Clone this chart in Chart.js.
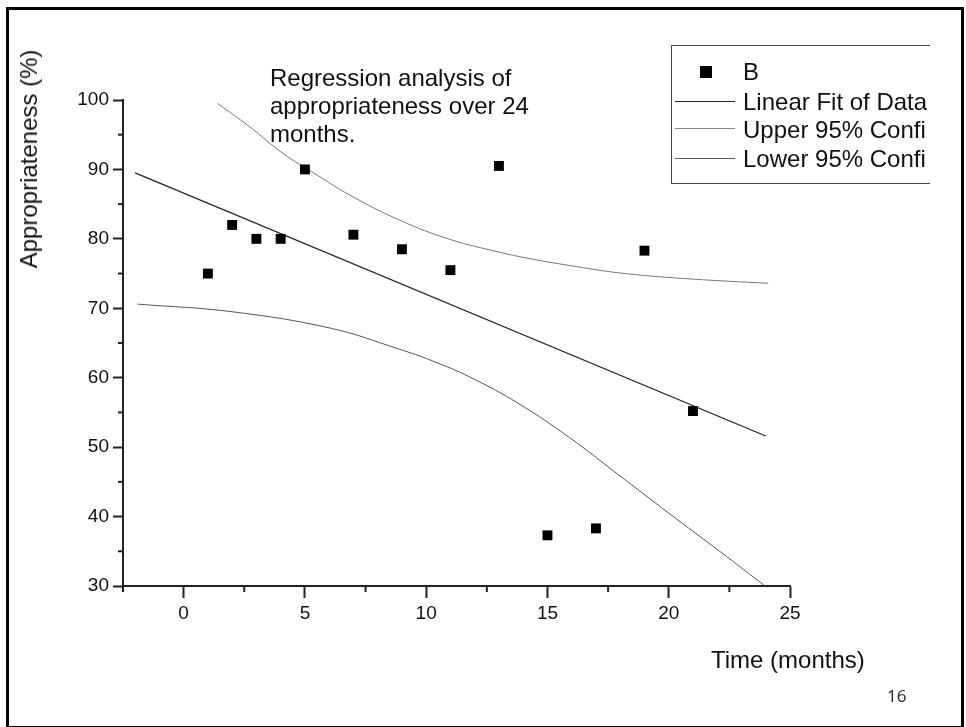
<!DOCTYPE html>
<html lang="en">
<head>
    <meta charset="UTF-8">
    <title>Regression analysis of appropriateness</title>
    <style>
        body { margin: 0; background: #fff; font-family: "Liberation Sans", Arial, sans-serif; }
        #wrap { position: relative; width: 966px; height: 727px; overflow: hidden; }
        #chart { position: absolute; left: 0; top: 0; }
        .txt { position: absolute; color: #111; white-space: nowrap; }
        #frame { position: absolute; left: 6px; top: 7px; width: 958px; height: 722px; border: 3px solid #000; box-sizing: border-box; pointer-events: none; }
        #note { left: 270px; top: 64px; font-size: 24px; line-height: 28px; }
        #ytitle { left: 29px; top: 159px; font-size: 24px; line-height: 28px; transform: translate(-50%, -50%) rotate(-90deg); }
        #xtitle { left: 711px; top: 646px; font-size: 24px; line-height: 28px; }
        #page { left: 887px; top: 687px; font-family: "Open Sans", sans-serif; font-size: 17px; line-height: 17px; color: #222; }
        #legend { position: absolute; left: 671px; top: 45px; width: 259px; height: 139px; border: 1.5px solid #444; border-right: none; box-sizing: border-box; overflow: hidden; }
        .lg-line { position: absolute; left: 3px; width: 60px; height: 0; }
        .lg-txt { position: absolute; left: 71px; font-size: 24px; line-height: 28px; color: #111; white-space: nowrap; }
        .lg-sq { position: absolute; left: 28px; top: 20px; width: 12px; height: 12px; background: #000; }
    </style>
</head>
<body>
<div id="wrap">
    <canvas id="chart" width="966" height="727"></canvas>
    <div id="note" class="txt">Regression analysis of<br>appropriateness over 24<br>months.</div>
    <div id="ytitle" class="txt">Appropriateness (%)</div>
    <div id="xtitle" class="txt">Time (months)</div>
    <div id="page" class="txt">16</div>
    <div id="legend">
        <div class="lg-sq"></div>
        <div class="lg-txt" style="top:12px">B</div>
        <div class="lg-line" style="top:55px; border-top:1.2px solid #222"></div>
        <div class="lg-txt" style="top:42px">Linear Fit of Data</div>
        <div class="lg-line" style="top:82px; border-top:1px solid #888"></div>
        <div class="lg-txt" style="top:70px">Upper 95% Confi</div>
        <div class="lg-line" style="top:112px; border-top:1px solid #555"></div>
        <div class="lg-txt" style="top:99px">Lower 95% Confi</div>
    </div>
    <div id="frame"></div>
</div>

<script src="https://cdn.jsdelivr.net/npm/chart.js"></script>
<script>
    // data
    const months = [1, 2, 3, 4, 5, 7, 9, 11, 13, 15, 17, 19, 21];
    const appropriateness = [75, 82, 80, 80, 90, 80.6, 78.5, 75.5, 90.5, 37.3, 38.3, 78.3, 55.2];

    const fitX = [-2, 24];
    const fitY = [89.5, 51.6];

    const upperX = [1.4, 2.7, 4.1, 5.5, 6.8, 8.9, 11.0, 13.0, 14.2, 16.2, 18.2, 21.0, 24.1];
    const upperY = [99.5, 96.2, 92.3, 89.2, 86.4, 82.7, 79.9, 78.1, 77.2, 76.0, 75.0, 74.2, 73.6];

    const lowerX = [-1.9, 2.0, 6.1, 8.9, 10.2, 11.8, 13.8, 15.9, 17.9, 20.0, 22.1, 24.05];
    const lowerY = [70.6, 69.5, 67.1, 64.1, 62.5, 60.1, 56.3, 51.4, 46.1, 40.5, 35.0, 29.8];

    const toPoints = (xs, ys) => xs.map((x, i) => ({ x: x, y: ys[i] }));
    const isMult = (v, m) => Math.abs(v / m - Math.round(v / m)) < 1e-6;

    Chart.defaults.font.family = '"Liberation Sans", Arial, sans-serif';
    Chart.defaults.color = '#111';

    // minor ticks (shorter) drawn through the scales
    const minorTicks = {
        id: 'minorTicks',
        afterDraw(chart) {
            const ctx = chart.ctx;
            const xs = chart.scales.x, ys = chart.scales.y;
            ctx.save();
            ctx.strokeStyle = '#222';
            ctx.lineWidth = 2;
            xs.ticks.forEach(t => {
                if (isMult(t.value, 5)) return;
                const px = xs.getPixelForValue(t.value);
                ctx.beginPath();
                ctx.moveTo(px, chart.chartArea.bottom);
                ctx.lineTo(px, chart.chartArea.bottom + 6);
                ctx.stroke();
            });
            ys.ticks.forEach(t => {
                if (isMult(t.value, 10)) return;
                const py = ys.getPixelForValue(t.value);
                ctx.beginPath();
                ctx.moveTo(chart.chartArea.left, py);
                ctx.lineTo(chart.chartArea.left - 5, py);
                ctx.stroke();
            });
            ctx.restore();
        }
    };

    new Chart(document.getElementById('chart'), {
        type: 'scatter',
        data: {
            datasets: [{
                label: 'B',
                data: toPoints(months, appropriateness),
                pointStyle: 'rect',
                pointRadius: 7,
                pointHoverRadius: 7,
                backgroundColor: '#000',
                borderWidth: 0
            }, {
                label: 'Linear Fit of Data',
                data: toPoints(fitX, fitY),
                showLine: true,
                pointRadius: 0,
                borderColor: '#222',
                borderWidth: 1.2
            }, {
                label: 'Upper 95% Confidence Limit',
                data: toPoints(upperX, upperY),
                showLine: true,
                pointRadius: 0,
                tension: 0.4,
                borderColor: '#777',
                borderWidth: 1
            }, {
                label: 'Lower 95% Confidence Limit',
                data: toPoints(lowerX, lowerY),
                showLine: true,
                pointRadius: 0,
                tension: 0.4,
                borderColor: '#555',
                borderWidth: 1
            }]
        },
        options: {
            responsive: false,
            animation: false,
            layout: { padding: { left: 0, top: 100, right: 176, bottom: 0 } },
            plugins: {
                legend: { display: false },
                tooltip: { enabled: false }
            },
            scales: {
                x: {
                    type: 'linear',
                    min: -2.5,
                    max: 25,
                    afterFit: s => { s.height = 141; },
                    border: { display: true, color: '#222', width: 2 },
                    grid: {
                        drawOnChartArea: false,
                        drawTicks: true,
                        tickLength: 12,
                        tickWidth: 2,
                        tickColor: c => (c.tick && isMult(c.tick.value, 5)) ? '#222' : 'rgba(0,0,0,0)'
                    },
                    ticks: {
                        stepSize: 2.5,
                        autoSkip: false,
                        maxRotation: 0,
                        padding: 4,
                        color: '#111',
                        font: { size: 19 },
                        callback: v => isMult(v, 5) ? v : ''
                    }
                },
                y: {
                    min: 30,
                    max: 100,
                    afterFit: s => { s.width = 123; },
                    border: { display: true, color: '#222', width: 2 },
                    grid: {
                        drawOnChartArea: false,
                        drawTicks: true,
                        tickLength: 10,
                        tickWidth: 2,
                        tickColor: c => (c.tick && isMult(c.tick.value, 10)) ? '#222' : 'rgba(0,0,0,0)'
                    },
                    ticks: {
                        stepSize: 5,
                        autoSkip: false,
                        padding: 4,
                        color: '#111',
                        font: { size: 19 },
                        callback: v => isMult(v, 10) ? v : ''
                    }
                }
            }
        },
        plugins: [minorTicks]
    });
</script>
</body>
</html>
